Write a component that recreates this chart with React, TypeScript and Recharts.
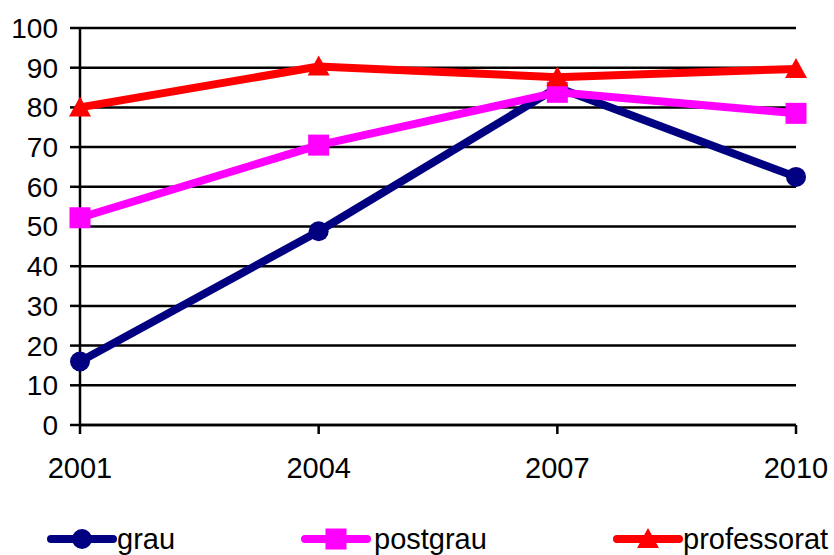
import React from "react";
import { LineChart, Line, XAxis, YAxis, CartesianGrid } from "recharts";

const years = ["2001", "2004", "2007", "2010"];
const grau = [16, 48.8, 85, 62.5];
const postgrau = [52.2, 70.5, 83.8, 78.5];
const professorat = [80, 90.3, 87.6, 89.7];
const yTicks = [0, 10, 20, 30, 40, 50, 60, 70, 80, 90, 100];

const FONT = '"Liberation Sans", Arial, sans-serif';
const NAVY = "#000080";
const PINK = "#ff00ff";
const RED = "#ff0000";

const data = years.map((year, i) => ({
  year,
  grau: grau[i],
  postgrau: postgrau[i],
  professorat: professorat[i],
}));

// marker shapes
const CircleDot = (props: any) => {
  const { cx, cy, index } = props;
  return <circle key={`c-${index}`} cx={cx} cy={cy} r={10} fill={NAVY} />;
};

const SquareDot = (props: any) => {
  const { cx, cy, index } = props;
  return (
    <rect key={`s-${index}`} x={cx - 10.5} y={cy - 10.5} width={21} height={21} fill={PINK} />
  );
};

const TriangleDot = (props: any) => {
  const { cx, cy, index } = props;
  return (
    <polygon
      key={`t-${index}`}
      points={`${cx},${cy - 11} ${cx + 11},${cy + 9} ${cx - 11},${cy + 9}`}
      fill={RED}
    />
  );
};

const legendItems = [
  { label: "grau", color: NAVY, shape: "circle", x: 51, textX: 117 },
  { label: "postgrau", color: PINK, shape: "square", x: 305, textX: 374 },
  { label: "professorat", color: RED, shape: "triangle", x: 617, textX: 683 },
];

const Legend = () => (
  <svg
    width={834}
    height={555}
    style={{ position: "absolute", left: 0, top: 0, pointerEvents: "none" }}
  >
    {legendItems.map((it) => {
      const cy = 539;
      const mid = it.x + 31;
      return (
        <g key={it.label}>
          <line
            x1={it.x}
            y1={cy}
            x2={it.x + 62}
            y2={cy}
            stroke={it.color}
            strokeWidth={8}
            strokeLinecap="round"
          />
          {it.shape === "circle" && <circle cx={mid} cy={cy} r={10} fill={it.color} />}
          {it.shape === "square" && (
            <rect x={mid - 10.5} y={cy - 10.5} width={21} height={21} fill={it.color} />
          )}
          {it.shape === "triangle" && (
            <polygon
              points={`${mid},${cy - 11} ${mid + 11},${cy + 9} ${mid - 11},${cy + 9}`}
              fill={it.color}
            />
          )}
          <text x={it.textX} y={549} fontSize={29} fontFamily={FONT} fill="#000">
            {it.label}
          </text>
        </g>
      );
    })}
  </svg>
);

export default function App() {
  return (
    <div style={{ position: "absolute", left: 0, top: 0, width: 834, height: 555, background: "#fff" }}>
      <LineChart
        width={834}
        height={555}
        data={data}
        margin={{ top: 28, right: 38, bottom: 0, left: 0 }}
      >
        <CartesianGrid vertical={false} stroke="#000" strokeWidth={2.5} />
        <XAxis
          dataKey="year"
          height={130}
          interval={0}
          axisLine={{ stroke: "#000", strokeWidth: 2.5 }}
          tickLine={{ stroke: "#000", strokeWidth: 2.5 }}
          tickSize={9}
          tickMargin={23}
          tick={{ fill: "#000", fontSize: 29, fontFamily: FONT }}
        />
        <YAxis
          width={80}
          domain={[0, 100]}
          ticks={yTicks}
          interval={0}
          axisLine={{ stroke: "#000", strokeWidth: 2.5 }}
          tickLine={{ stroke: "#000", strokeWidth: 2.5 }}
          tickSize={10}
          tickMargin={12}
          tick={{ fill: "#000", fontSize: 28, fontFamily: FONT }}
        />
        <Line
          type="linear"
          dataKey="grau"
          stroke={NAVY}
          strokeWidth={8}
          strokeLinejoin="round"
          dot={CircleDot}
          activeDot={false}
          isAnimationActive={false}
        />
        <Line
          type="linear"
          dataKey="postgrau"
          stroke={PINK}
          strokeWidth={8}
          strokeLinejoin="round"
          dot={SquareDot}
          activeDot={false}
          isAnimationActive={false}
        />
        <Line
          type="linear"
          dataKey="professorat"
          stroke={RED}
          strokeWidth={8}
          strokeLinejoin="round"
          dot={TriangleDot}
          activeDot={false}
          isAnimationActive={false}
        />
      </LineChart>
      <Legend />
    </div>
  );
}
